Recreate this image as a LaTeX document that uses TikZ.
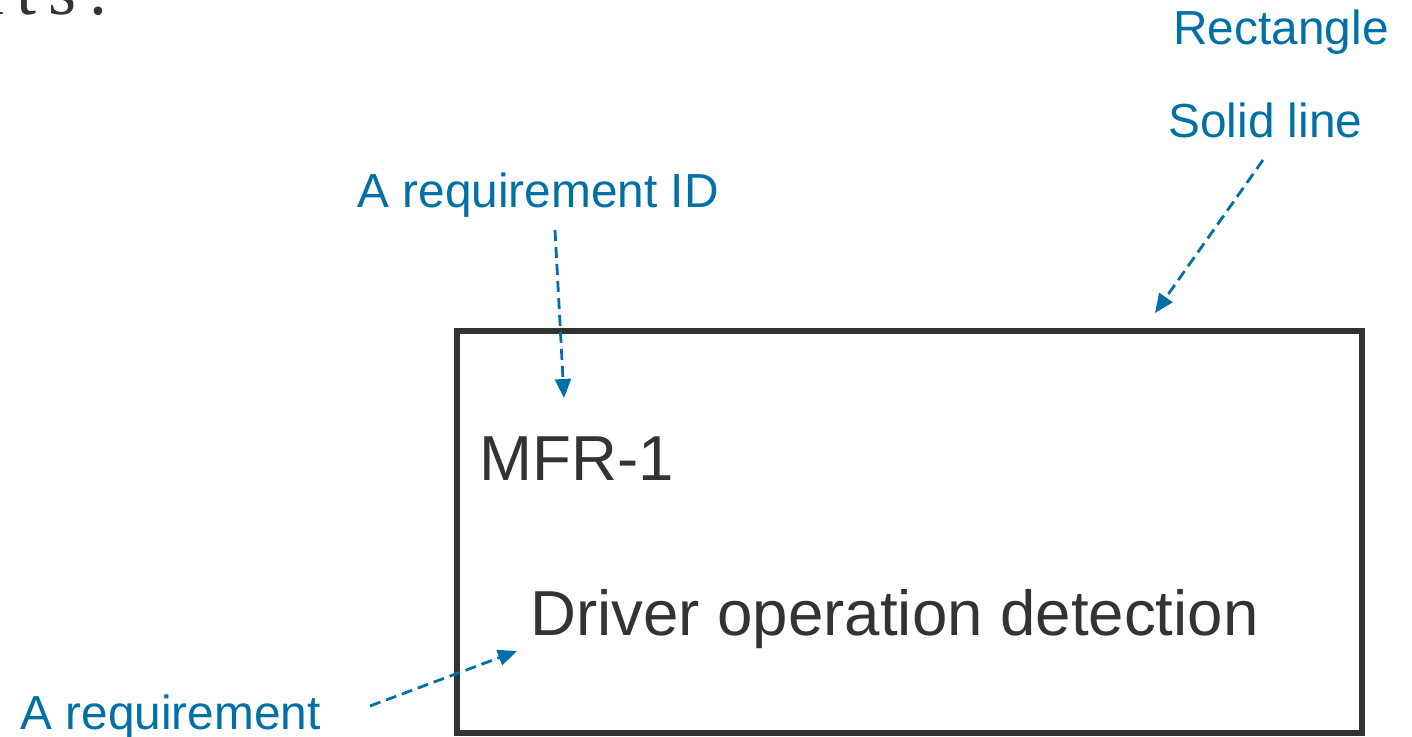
\documentclass[tikz,border=0pt]{standalone}
\usepackage{fontspec}
\setmainfont{Liberation Sans}
\newfontfamily\serifface{Liberation Serif}
\usetikzlibrary{arrows.meta}
\definecolor{callout}{RGB}{0,112,166}
\definecolor{ink}{RGB}{51,51,51}
\tikzset{
  lbl/.style={anchor=base west, inner sep=0pt, text=callout, font=\fontsize{23.9pt}{28pt}\selectfont},
  boxtext/.style={anchor=base west, inner sep=0pt, text=ink, font=\fontsize{31.8pt}{37pt}\selectfont},
  reqbox/.style={draw=ink, line width=3pt, minimum width=452.5pt, minimum height=201pt, inner sep=0pt},
  pointer/.style={draw=callout, line width=1.4pt, dash pattern=on 5.5pt off 3pt,
    -{Triangle[length=9.5pt,width=8pt]}}
}
\begin{document}
\begin{tikzpicture}[x=0.5pt,y=-0.5pt]
  \useasboundingbox (0,0) rectangle (1412,737);
  % tail of the heading line above
  \node[anchor=base east, inner sep=0pt, text=ink, font=\serifface\fontsize{36pt}{42pt}\selectfont] (head) at (109,15) {n\,t\,s\,:};
  % the requirement box
  \node[reqbox] (box) at (909.5,532) {};
  \node[boxtext] (rid) at (479,480) {MFR-1};
  \node[boxtext] (rtext) at (530,635) {Driver operation detection};
  % callout labels
  \node[lbl] (lrect) at (1173,45) {Rectangle};
  \node[lbl] (lsolid) at (1168,138) {Solid line};
  \node[lbl] (lid) at (357,208) {A requirement ID};
  \node[lbl] (lreq) at (20,729) {A requirement};
  % pointer ends
  \coordinate (solidtail) at (1263,160);
  \coordinate (solidtip) at (1155,313);
  \coordinate (idtail) at (555,230);
  \coordinate (idtip) at (564,398);
  \coordinate (reqtail) at (370,706);
  \coordinate (reqtip) at (517,651);
  \draw[pointer] (solidtail) -- (solidtip);
  \draw[pointer] (idtail) -- (idtip);
  \draw[pointer] (reqtail) -- (reqtip);
\end{tikzpicture}
\end{document}
